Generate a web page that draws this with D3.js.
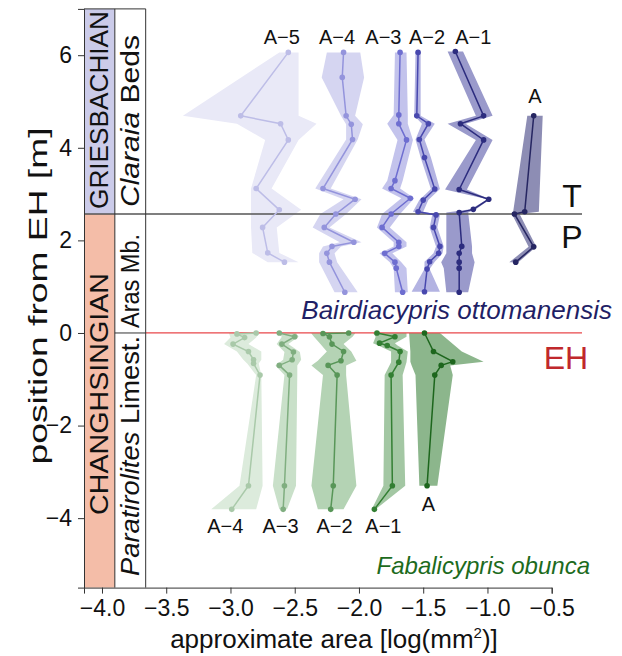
<!DOCTYPE html>
<html><head><meta charset="utf-8">
<script src="https://cdn.jsdelivr.net/npm/d3@7"></script>
<style>body{margin:0;background:#fff} svg{display:block} text{font-family:"Liberation Sans",Arial,Helvetica,sans-serif}</style>
</head><body><svg id="c" width="622" height="656"></svg>
<script>
// ---- data: [position (m), mean area, band low, band high] ----
const blueA5 = [[6.06,-2.55,-2.62,-2.47],[4.69,-2.92,-3.37,-2.47],[4.52,-2.61,-2.95,-2.33],[4.17,-2.55,-2.73,-2.47],[3.12,-2.80,-2.84,-2.68],[2.66,-2.62,-2.84,-2.45],[2.28,-2.75,-2.84,-2.64],[1.73,-2.71,-2.83,-2.62],[1.53,-2.58,-2.71,-2.47]];
const blueA4 = [[6.06,-2.12,-2.25,-1.99],[5.52,-2.13,-2.29,-1.96],[4.69,-2.10,-2.14,-2.03],[4.51,-2.06,-2.10,-1.97],[4.18,-2.05,-2.10,-2.01],[3.12,-2.28,-2.34,-2.22],[2.89,-2.03,-2.12,-1.98],[2.57,-2.18,-2.30,-2.10],[2.28,-2.27,-2.36,-2.23],[1.96,-2.04,-2.15,-1.98],[1.87,-2.21,-2.28,-2.14],[1.72,-2.25,-2.31,-2.19],[1.53,-2.23,-2.31,-2.17],[0.88,-2.11,-2.19,-2.01]];
const blueA3 = [[6.06,-1.68,-1.72,-1.63],[4.71,-1.69,-1.73,-1.62],[4.52,-1.69,-1.78,-1.62],[4.17,-1.63,-1.70,-1.58],[3.29,-1.72,-1.78,-1.66],[3.12,-1.75,-1.82,-1.68],[2.91,-1.60,-1.67,-1.57],[2.57,-1.75,-1.82,-1.68],[2.28,-1.82,-1.86,-1.76],[1.96,-1.69,-1.73,-1.63],[1.87,-1.69,-1.73,-1.63],[1.72,-1.80,-1.84,-1.74],[1.53,-1.72,-1.76,-1.67],[1.40,-1.71,-1.73,-1.63],[0.88,-1.66,-1.72,-1.62]];
const blueA2 = [[6.06,-1.54,-1.56,-1.52],[4.69,-1.55,-1.57,-1.52],[4.52,-1.46,-1.51,-1.41],[4.18,-1.53,-1.56,-1.49],[3.79,-1.49,-1.52,-1.44],[3.11,-1.41,-1.44,-1.37],[2.87,-1.50,-1.53,-1.46],[2.62,-1.54,-1.58,-1.50],[2.55,-1.40,-1.43,-1.37],[2.28,-1.42,-1.45,-1.39],[1.87,-1.37,-1.40,-1.34],[1.72,-1.38,-1.42,-1.35],[1.54,-1.45,-1.49,-1.41],[1.38,-1.47,-1.49,-1.45],[0.89,-1.49,-1.59,-1.37]];
const blueA1 = [[6.08,-1.25,-1.31,-1.19],[4.69,-1.03,-1.09,-0.96],[4.52,-1.21,-1.31,-1.17],[4.17,-1.03,-1.09,-0.96],[3.10,-1.22,-1.33,-1.16],[2.89,-0.99,-1.00,-0.98],[2.67,-1.11,-1.13,-1.09],[2.60,-1.22,-1.32,-1.15],[1.87,-1.20,-1.32,-1.12],[1.72,-1.22,-1.32,-1.12],[1.53,-1.22,-1.36,-1.10],[1.40,-1.22,-1.34,-1.11],[0.88,-1.22,-1.32,-1.15]];
const blueA0 = [[4.69,-0.64,-0.69,-0.57],[2.62,-0.71,-0.80,-0.60],[2.57,-0.79,-0.81,-0.75],[1.86,-0.64,-0.68,-0.62],[1.53,-0.78,-0.83,-0.76]];

const greenA4 = [[0.00,-2.80,-3.01,-2.77],[-0.02,-2.95,-3.01,-2.78],[-0.10,-2.89,-3.00,-2.80],[-0.24,-2.98,-3.05,-2.86],[-0.40,-2.86,-2.95,-2.76],[-0.58,-2.82,-2.90,-2.76],[-0.66,-2.82,-2.87,-2.78],[-0.91,-2.77,-2.80,-2.76],[-3.30,-2.86,-2.93,-2.75],[-3.81,-2.99,-3.15,-2.80]];
const greenA3 = [[0.00,-2.62,-2.64,-2.49],[-0.08,-2.50,-2.60,-2.47],[-0.24,-2.60,-2.64,-2.55],[-0.41,-2.51,-2.58,-2.46],[-0.58,-2.52,-2.59,-2.45],[-0.70,-2.62,-2.65,-2.48],[-0.91,-2.54,-2.58,-2.48],[-3.30,-2.58,-2.67,-2.49],[-3.81,-2.59,-2.62,-2.56]];
const greenA2 = [[0.00,-2.08,-2.37,-2.03],[-0.01,-2.28,-2.37,-2.03],[-0.08,-2.23,-2.35,-2.05],[-0.24,-2.21,-2.30,-2.12],[-0.40,-2.12,-2.25,-2.06],[-0.60,-2.14,-2.32,-2.02],[-0.70,-2.24,-2.37,-2.10],[-0.91,-2.17,-2.28,-2.10],[-3.30,-2.20,-2.37,-2.02],[-3.81,-2.22,-2.32,-2.12]];
const greenA1 = [[0.00,-1.86,-1.89,-1.63],[-0.08,-1.72,-1.87,-1.63],[-0.22,-1.84,-1.89,-1.72],[-0.27,-1.78,-1.85,-1.70],[-0.40,-1.68,-1.75,-1.62],[-0.63,-1.69,-1.75,-1.63],[-0.91,-1.75,-1.80,-1.66],[-3.30,-1.74,-1.81,-1.64],[-3.81,-1.88,-1.90,-1.87]];
const greenA0 = [[0.00,-1.49,-1.61,-1.37],[-0.40,-1.42,-1.60,-1.20],[-0.62,-1.27,-1.60,-1.03],[-0.70,-1.36,-1.59,-1.29],[-0.91,-1.41,-1.56,-1.27],[-3.30,-1.47,-1.53,-1.39]];

const blueNames = ["A−5","A−4","A−3","A−2","A−1","A"];
const greenNames = ["A−4","A−3","A−2","A−1","A"];
const blueLabelPos = [[-2.60,6.24],[-2.17,6.24],[-1.81,6.24],[-1.47,6.24],[-1.11,6.24],[-0.63,4.97]];
const greenLabelPos = [[-3.04,-4.32],[-2.61,-4.32],[-2.19,-4.32],[-1.81,-4.32],[-1.46,-3.85]];
const xTicks = [-4.0,-3.5,-3.0,-2.5,-2.0,-1.5,-1.0,-0.5];
const yTicks = [-4,-2,0,2,4,6];
const boundaryTP = 2.57, boundaryEH = 0;

// ---- styles ----
const blueBand = ["#e9e9f7","#d5d5f1","#c3c3ec","#b3b3e2","#9a9acb","#8d8db4"];
const blueLine = ["#bdbde7","#9494dc","#6e6ed0","#4848ae","#2c2c7e","#262662"];
const greenBand = ["#dcebdc","#c9e0c9","#b4d3b4","#a3c7a3","#8cb68c"];
const greenLine = ["#a9c9a9","#80ae80","#589658","#337f33","#1d661d"];

const svg = d3.select("#c");
const x = d3.scaleLinear().domain([-4.14,-0.5]).range([84,551.7]);
const y = d3.scaleLinear().domain([-5.5,7]).range([587.6,8.9]);

// stratigraphic columns
const c0 = x(-4.14), c1 = x(-3.9), c2 = x(-3.66);
svg.append("rect").attr("x",c0).attr("y",y(7)).attr("width",c1-c0).attr("height",y(boundaryTP)-y(7)).attr("fill","#cbcbe9");
svg.append("rect").attr("x",c0).attr("y",y(boundaryTP)).attr("width",c1-c0).attr("height",y(-5.5)-y(boundaryTP)).attr("fill","#f4bda8");
const bl = (x1,y1,x2,y2,col,w)=>svg.append("line").attr("x1",x1).attr("y1",y1).attr("x2",x2).attr("y2",y2).attr("stroke",col).attr("stroke-width",w);

const blueSeries = [blueA5,blueA4,blueA3,blueA2,blueA1,blueA0];
const greenSeries = [greenA4,greenA3,greenA2,greenA1,greenA0];

const area = d3.area().y(d=>y(d[0])).x0(d=>x(d[2])).x1(d=>x(d[3])).curve(d3.curveLinear);
const line = d3.line().x(d=>x(d[1])).y(d=>y(d[0]));

function drawBands(series, fills){
  series.forEach((s,i)=>svg.append("path").attr("d",area(s)).attr("fill",fills[i]).attr("stroke","none"));
}
drawBands(blueSeries, blueBand);
drawBands(greenSeries, greenBand);

// boundaries
bl(c0,y(boundaryTP),582,y(boundaryTP),"#555",1.3);
bl(c2,y(boundaryEH),582,y(boundaryEH),"#e8474a",1.2);
bl(c1,y(boundaryEH),c2,y(boundaryEH),"#333",1);
bl(c1,y(7),c1,y(-5.5),"#333",1);
bl(c2,y(7),c2,y(-5.5),"#333",1);
bl(c0,y(7),c2,y(7),"#333",1);

function drawLines(series, cols){
  series.forEach((s,i)=>{
    svg.append("path").attr("d",line(s)).attr("fill","none").attr("stroke",cols[i]).attr("stroke-width",1.5);
    svg.selectAll(null).data(s).enter().append("circle")
      .attr("cx",d=>x(d[1])).attr("cy",d=>y(d[0])).attr("r",2.8).attr("fill",cols[i]);
  });
}
drawLines(blueSeries, blueLine);
drawLines(greenSeries, greenLine);

// axes
const xa = svg.append("g").attr("transform",`translate(0,${y(-5.5)})`)
  .call(d3.axisBottom(x).tickValues(xTicks).tickFormat(d3.format(".1f")).tickSizeOuter(0).tickSize(6).tickPadding(6));
const ya = svg.append("g").attr("transform",`translate(${x(-4.14)},0)`)
  .call(d3.axisLeft(y).tickValues(yTicks).tickFormat(d3.format("d")).tickSizeOuter(0).tickSize(6).tickPadding(6));
[xa,ya].forEach(g=>{
  g.attr("font-size",23);
  g.selectAll("path,line").attr("stroke","#333");
  g.selectAll("text").attr("font-size",23).attr("fill","#111").style("font-family",'"Liberation Sans",Arial,sans-serif');
});

// axis titles
svg.append("text").attr("x",334).attr("y",648).attr("text-anchor","middle").attr("font-size",26).attr("fill","#111")
  .html('approximate area [log(mm<tspan dy="-10" font-size="15">2</tspan><tspan dy="10">)]</tspan>');
svg.append("text").attr("transform",`translate(47,296) rotate(-90)`).attr("text-anchor","middle")
  .attr("font-size",25).attr("fill","#111").attr("textLength",337).attr("lengthAdjust","spacingAndGlyphs").text("position from EH [m]");

// column texts
function vtext(cx, cy, size, len, parts){
  const t = svg.append("text").attr("transform",`translate(${cx},${cy}) rotate(-90)`).attr("text-anchor","middle")
    .attr("dominant-baseline","central").attr("font-size",size).attr("fill","#111")
    .attr("textLength",len).attr("lengthAdjust","spacingAndGlyphs");
  parts.forEach(p=>t.append("tspan").attr("font-style",p[1]?"italic":"normal").text(p[0]));
}
const mc1 = (c0+c1)/2, mc2 = (c1+c2)/2;
vtext(mc1,110,26,198,[["GRIESBACHIAN",0]]);
vtext(mc1,394,26,242,[["CHANGHSINGIAN",0]]);
vtext(mc2,121,26,172,[["Claraia",1],[" Beds",0]]);
vtext(mc2,281,26,94,[["Aras Mb.",0]]);
vtext(mc2,456,26,240,[["Paratirolites",1],[" Limest.",0]]);

// series labels
blueNames.forEach((n,i)=>svg.append("text").attr("x",x(blueLabelPos[i][0])).attr("y",y(blueLabelPos[i][1]))
  .attr("text-anchor","middle").attr("font-size",20).attr("fill","#111").text(n));
greenNames.forEach((n,i)=>svg.append("text").attr("x",x(greenLabelPos[i][0])).attr("y",y(greenLabelPos[i][1]))
  .attr("text-anchor","middle").attr("font-size",20).attr("fill","#111").text(n));

// annotations
svg.append("text").attr("x",572).attr("y",207).attr("text-anchor","middle").attr("font-size",32).attr("fill","#111").text("T");
svg.append("text").attr("x",572).attr("y",248).attr("text-anchor","middle").attr("font-size",32).attr("fill","#111").text("P");
svg.append("text").attr("x",566).attr("y",369).attr("text-anchor","middle").attr("font-size",32).attr("fill","#c0282c").text("EH");
svg.append("text").attr("x",612).attr("y",319).attr("text-anchor","end").attr("font-size",26).attr("font-style","italic").attr("fill","#1f1f66").text("Bairdiacypris ottomanensis");
svg.append("text").attr("x",590).attr("y",574).attr("text-anchor","end").attr("font-size",24).attr("font-style","italic").attr("fill","#1d6b1d").text("Fabalicypris obunca");
</script></body></html>
